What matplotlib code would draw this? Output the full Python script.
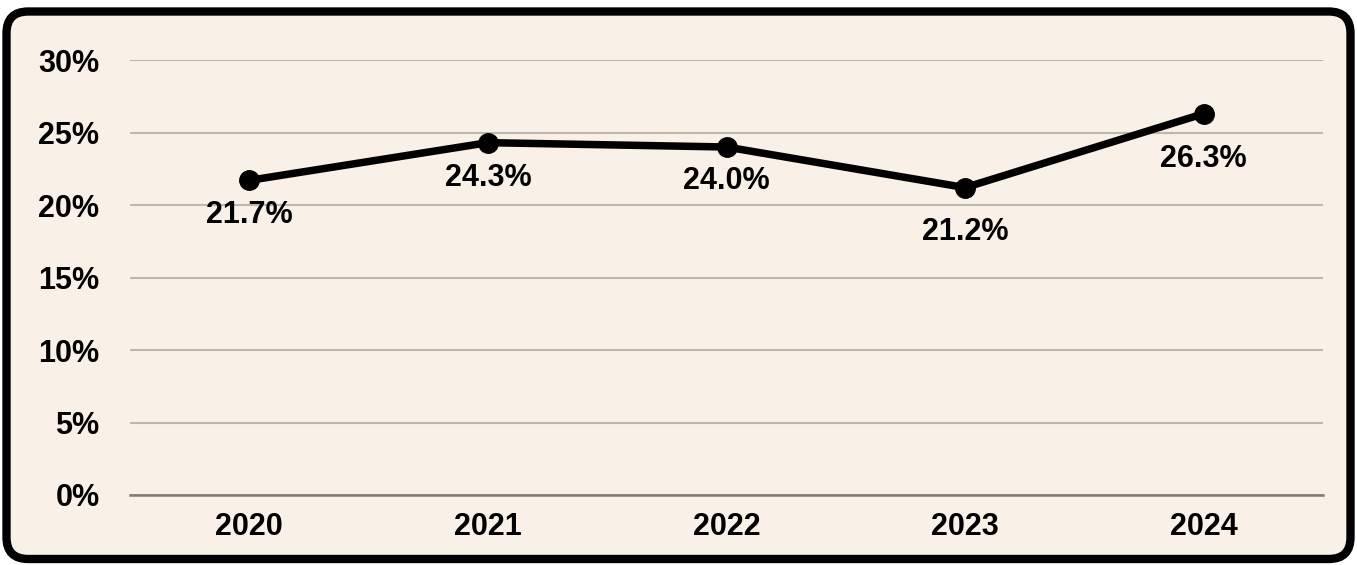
import matplotlib.pyplot as plt
from matplotlib.patches import FancyBboxPatch
from matplotlib.ticker import FuncFormatter

plt.rcParams['font.family'] = ['Liberation Sans', 'DejaVu Sans']

# yearly share, in percent
years = ["2020", "2021", "2022", "2023", "2024"]
share = [21.7, 24.3, 24.0, 21.2, 26.3]
label_offsets = [-35, -35, -34, -44, -45]  # label drop below each point, px

W, H = 1357, 565
fig = plt.figure(figsize=(W / 100, H / 100), dpi=100)
fig.patch.set_facecolor("white")

# rounded frame around the whole chart
frame = FancyBboxPatch(
    (6.5 / W, 6 / H), (W - 13) / W, (H - 17.5) / H,
    boxstyle="round,pad=0,rounding_size=0.016",
    transform=fig.transFigure, facecolor="#F9F0E7", edgecolor="black",
    linewidth=6, mutation_aspect=W / H, zorder=-1,
)
fig.patches.append(frame)

ax = fig.add_axes([130 / W, 1 - 495 / H, 1193 / W, 435 / H])
ax.set_facecolor("none")

x = list(range(len(years)))
ax.plot(x, share, color="black", linewidth=5.4, marker="o", markersize=14,
        solid_capstyle="round", zorder=3, clip_on=False)

for xi, v, off in zip(x, share, label_offsets):
    ax.annotate(f"{v:.1f}%", (xi, v), xytext=(0, off * 0.72),
                textcoords="offset points", ha="center", va="center",
                fontsize=22, fontweight="bold", color="black")

ax.set_xlim(-0.5, len(years) - 0.5)
ax.set_ylim(0, 30)
ax.set_yticks(range(0, 31, 5))
ax.yaxis.set_major_formatter(FuncFormatter(lambda v, _: f"{v:.0f}%"))
ax.set_xticks(x)
ax.set_xticklabels(years)

ax.grid(axis="y", color="#BFB7AE", linewidth=1.5)
ax.set_axisbelow(True)
for side in ["top", "right", "left"]:
    ax.spines[side].set_visible(False)
ax.spines["bottom"].set_color("#7F7B77")
ax.spines["bottom"].set_linewidth(1.8)

ax.tick_params(axis="both", length=0, labelsize=22)
ax.tick_params(axis="y", pad=22)
ax.tick_params(axis="x", pad=12)
for lbl in ax.get_xticklabels() + ax.get_yticklabels():
    lbl.set_fontweight("bold")

fig.savefig("out.png", dpi=100)
